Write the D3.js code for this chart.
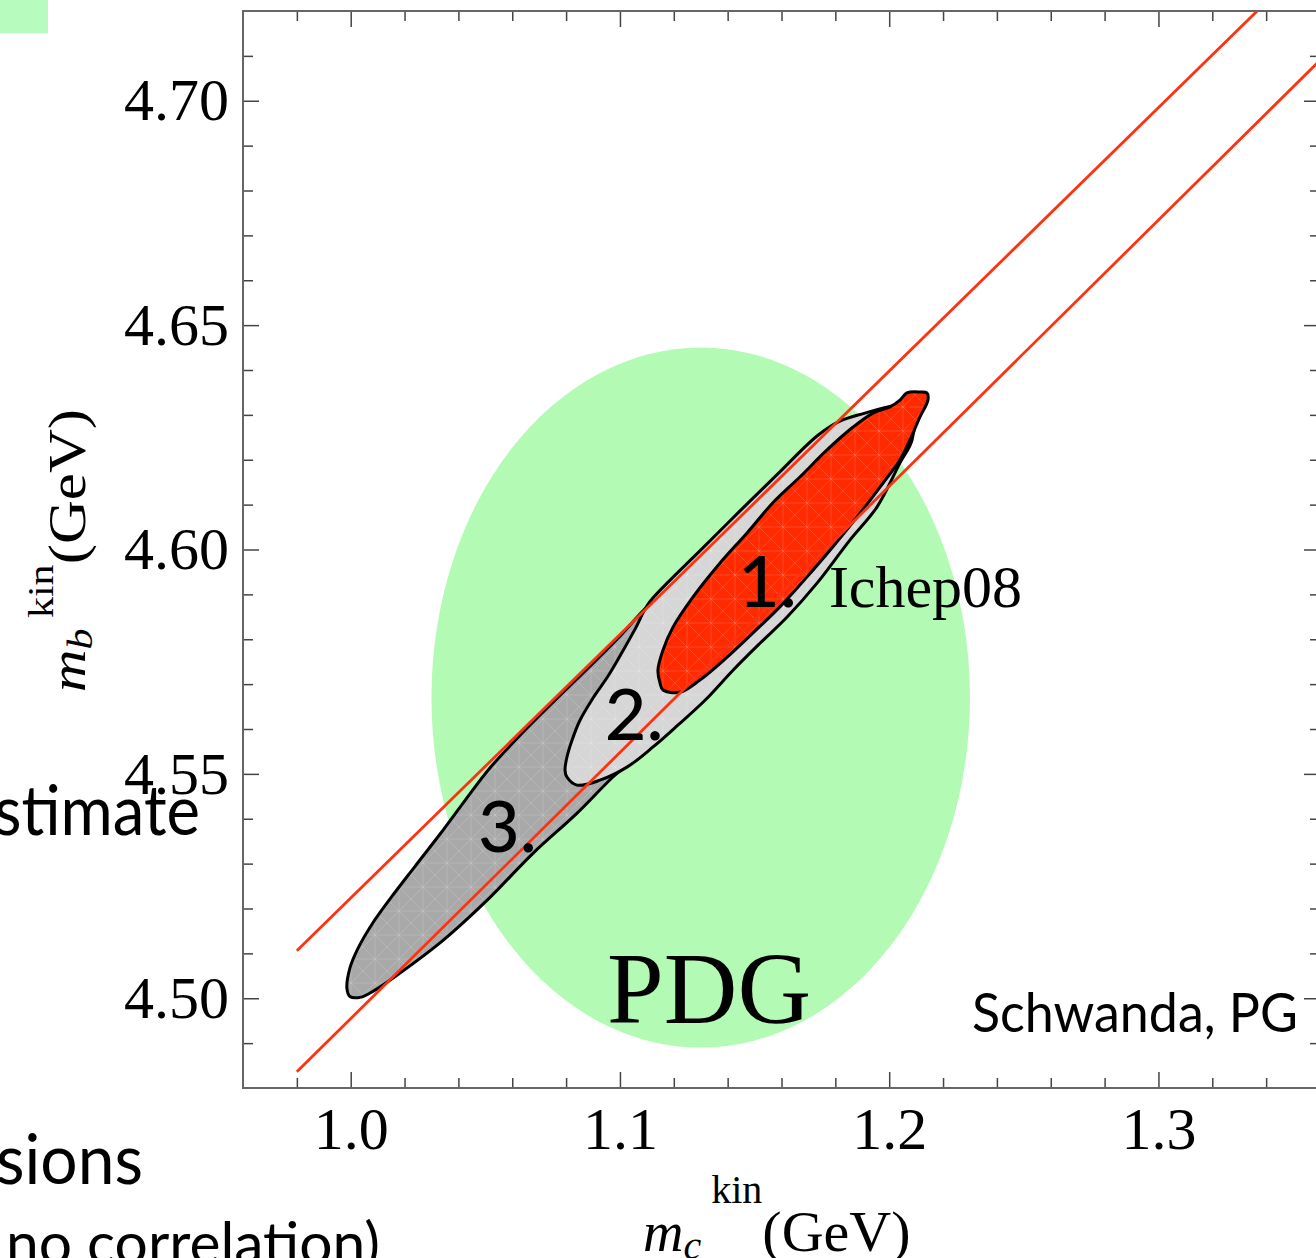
<!DOCTYPE html>
<html>
<head>
<meta charset="utf-8">
<script src="https://cdn.jsdelivr.net/npm/d3@7"></script>
<style>
  body { margin: 0; background: #fff; }
  svg { display: block; }
</style>
</head>
<body>
<div id="chart"></div>
<script>
// axis ticks
const x_ticks = [1.0, 1.1, 1.2, 1.3];
const y_ticks = [4.50, 4.55, 4.60, 4.65, 4.70];
const x_minor = [0.98, 1.02, 1.04, 1.06, 1.08, 1.12, 1.14, 1.16, 1.18, 1.22, 1.24, 1.26, 1.28, 1.32, 1.34];
const y_minor = [4.49, 4.51, 4.52, 4.53, 4.54, 4.56, 4.57, 4.58, 4.59, 4.61, 4.62, 4.63, 4.64, 4.66, 4.67, 4.68, 4.69, 4.71];

// PDG average (m_c, m_b) and its half widths
const pdg_center = [1.13, 4.567];
const pdg_halfwidth = [0.10, 0.078];

// red band
const band_upper = [[0.98, 4.5106], [1.36, 4.7337]];
const band_lower = [[0.98, 4.4836], [1.36, 4.7090]];

// contours, [m_c, m_b]
const contour_3 = [
  [0.9986, 4.5022], [0.9997, 4.5067], [1.0027, 4.5111], [1.0079, 4.5165], [1.0153, 4.5227],
  [1.0239, 4.5294], [1.0332, 4.5366], [1.0425, 4.5441], [1.0517, 4.5513], [1.0629, 4.5586],
  [1.0759, 4.5664], [1.0889, 4.5740], [1.1000, 4.5807], [1.1104, 4.5874], [1.1179, 4.5905],
  [1.1231, 4.5854], [1.1193, 4.5687], [1.1112, 4.5564], [1.1048, 4.5531], [1.0974, 4.5493],
  [1.0840, 4.5412], [1.0677, 4.5323], [1.0506, 4.5218], [1.0343, 4.5129], [1.0183, 4.5056],
  [1.0090, 4.5018], [1.0035, 4.5002], [0.9997, 4.5004]
];
const contour_2 = [
  [1.0796, 4.5508], [1.0803, 4.5537], [1.0822, 4.5575], [1.0852, 4.5620], [1.0900, 4.5669],
  [1.0956, 4.5718], [1.1008, 4.5771], [1.1060, 4.5827], [1.1104, 4.5878], [1.1175, 4.5925],
  [1.1297, 4.5997], [1.1446, 4.6086], [1.1594, 4.6173], [1.1732, 4.6253], [1.1817, 4.6286],
  [1.1910, 4.6304], [1.2014, 4.6320], [1.2085, 4.6322], [1.2085, 4.6244],
  [1.2040, 4.6193], [1.1955, 4.6095], [1.1854, 4.6021], [1.1732, 4.5925], [1.1620, 4.5849],
  [1.1520, 4.5791], [1.1420, 4.5731], [1.1316, 4.5664], [1.1216, 4.5609], [1.1123, 4.5560],
  [1.1026, 4.5515], [1.0926, 4.5486], [1.0840, 4.5475], [1.0803, 4.5493]
];
const contour_1 = [
  [1.1149, 4.5702], [1.1160, 4.5687], [1.1223, 4.5682], [1.1297, 4.5709], [1.1398, 4.5760],
  [1.1494, 4.5814], [1.1594, 4.5872], [1.1695, 4.5939], [1.1791, 4.6006], [1.1892, 4.6081],
  [1.1977, 4.6148], [1.2040, 4.6200], [1.2077, 4.6244], [1.2114, 4.6295], [1.2144, 4.6333],
  [1.2140, 4.6349], [1.2114, 4.6351], [1.2066, 4.6349], [1.2040, 4.6333], [1.2003, 4.6318],
  [1.1940, 4.6304], [1.1866, 4.6273], [1.1769, 4.6222], [1.1669, 4.6162], [1.1568, 4.6104],
  [1.1472, 4.6037], [1.1372, 4.5970], [1.1271, 4.5894], [1.1197, 4.5827], [1.1160, 4.5776],
  [1.1141, 4.5731]
];

// annotations inside the plot
const marks_text = [
  { text: "1.", mc: 1.1438, mb: 4.5872, font: "Lato", size: 72, weight: 500 },
  { text: "2.", mc: 1.0944, mb: 4.5575, font: "Lato", size: 72, weight: 500 },
  { text: "3.", mc: 1.0473, mb: 4.5326, font: "Lato", size: 72, weight: 500 },
  { text: "Ichep08", mc: 1.1776, mb: 4.5872, font: "Liberation Serif", size: 60, weight: 400 },
  { text: "PDG", mc: 1.0952, mb: 4.4944, font: "Liberation Serif", size: 102, weight: 400 }
];

let graph_config = {
  width: 1316,
  height: 1258,
  margin: { left: 243, right: -4, top: 11, bottom: 170 }
};
let plot_w = graph_config.width - graph_config.margin.left - graph_config.margin.right;
let plot_h = graph_config.height - graph_config.margin.top - graph_config.margin.bottom;

let svg = d3.select("#chart").append("svg")
  .attr("width", graph_config.width)
  .attr("height", graph_config.height);

// faint triangulation mesh seen inside the filled contours
let pat = svg.append("defs").append("pattern")
  .attr("id", "mesh").attr("patternUnits", "userSpaceOnUse")
  .attr("width", 24).attr("height", 24);
pat.append("path")
  .attr("d", "M0,0L24,24M24,0L0,24M12,0V24M0,12H24")
  .attr("stroke", "#fff").attr("stroke-opacity", 0.15).attr("stroke-width", 1).attr("fill", "none");

// bits of the surrounding slide
svg.append("rect").attr("x", 0).attr("y", 0).attr("width", 48).attr("height", 33).attr("fill", "#b8fbbf");
let slide_text = [
  { text: "stimate", x: -6, y: 835, size: 70, len: 206 },
  { text: "sions", x: -4, y: 1184, size: 70, len: 147 },
  { text: "no correlation)", x: 6, y: 1264, size: 58, len: 374 }
];
svg.selectAll(".slide").data(slide_text).enter().append("text")
  .attr("class", "slide")
  .attr("x", d => d.x).attr("y", d => d.y)
  .attr("font-family", "Lato").attr("font-size", d => d.size)
  .attr("textLength", d => d.len).attr("lengthAdjust", "spacingAndGlyphs")
  .attr("fill", "#000")
  .text(d => d.text);

let g = svg.append("g")
  .attr("transform", "translate(" + graph_config.margin.left + "," + graph_config.margin.top + ")");

let x = d3.scaleLinear().domain([0.96, 1.36]).range([0, plot_w]);
let y = d3.scaleLinear().domain([4.48, 4.72]).range([plot_h, 0]);

g.append("clipPath").attr("id", "plot_clip")
  .append("rect").attr("width", plot_w).attr("height", plot_h);

let inner = g.append("g").attr("clip-path", "url(#plot_clip)");

// PDG ellipse
inner.append("ellipse")
  .attr("cx", x(pdg_center[0]))
  .attr("cy", y(pdg_center[1]))
  .attr("rx", x(pdg_center[0] + pdg_halfwidth[0]) - x(pdg_center[0]))
  .attr("ry", y(pdg_center[1]) - y(pdg_center[1] + pdg_halfwidth[1]))
  .attr("fill", "#b3fab4");

let contour_line = d3.line()
  .x(d => x(d[0]))
  .y(d => y(d[1]))
  .curve(d3.curveCatmullRomClosed.alpha(0.5));

let contours = [
  { pts: contour_3, fill: "#a9a9a9" },
  { pts: contour_2, fill: "#d6d6d6" },
  { pts: contour_1, fill: "#ff2a00" }
];
let cg = inner.selectAll(".contour").data(contours).enter().append("g").attr("class", "contour");
cg.append("path").attr("d", d => contour_line(d.pts)).attr("fill", d => d.fill);
cg.append("path").attr("d", d => contour_line(d.pts)).attr("fill", "url(#mesh)");
cg.append("path").attr("d", d => contour_line(d.pts))
  .attr("fill", "none")
  .attr("stroke", "#000")
  .attr("stroke-width", 3)
  .attr("stroke-linejoin", "round");

let band_line = d3.line().x(d => x(d[0])).y(d => y(d[1]));
inner.selectAll(".band").data([band_upper, band_lower]).enter().append("path")
  .attr("class", "band")
  .attr("d", band_line)
  .attr("fill", "none")
  .attr("stroke", "#ff3210")
  .attr("stroke-width", 2.8);

g.selectAll(".note").data(marks_text).enter().append("text")
  .attr("class", "note")
  .attr("x", d => x(d.mc)).attr("y", d => y(d.mb))
  .attr("font-family", d => d.font)
  .attr("font-size", d => d.size)
  .attr("font-weight", d => d.weight)
  .text(d => d.text);

g.append("text")
  .attr("x", x(1.3518)).attr("y", y(4.4924))
  .attr("text-anchor", "end")
  .attr("font-family", "Lato").attr("font-size", 54)
  .attr("textLength", 326).attr("lengthAdjust", "spacingAndGlyphs")
  .text("Schwanda, PG");

// frame and ticks on all four sides
function tick_axis(axis, transform) {
  let a = g.append("g").attr("transform", transform).call(axis);
  a.select(".domain").remove();
  a.selectAll(".tick line").attr("stroke", "#444").attr("stroke-width", 1.5);
  a.selectAll("text").attr("font-family", "Liberation Serif").attr("font-size", 60).attr("fill", "#000");
  return a;
}
tick_axis(d3.axisBottom(x).tickValues(x_ticks).tickSize(-16).tickPadding(18).tickFormat(d3.format(".1f")),
  "translate(0," + plot_h + ")");
tick_axis(d3.axisBottom(x).tickValues(x_minor).tickSize(-10).tickFormat(""), "translate(0," + plot_h + ")");
tick_axis(d3.axisTop(x).tickValues(x_ticks).tickSize(-16).tickFormat(""), "translate(0,0)");
tick_axis(d3.axisTop(x).tickValues(x_minor).tickSize(-10).tickFormat(""), "translate(0,0)");
tick_axis(d3.axisLeft(y).tickValues(y_ticks).tickSize(-16).tickPadding(14).tickFormat(d3.format(".2f")),
  "translate(0,0)");
tick_axis(d3.axisLeft(y).tickValues(y_minor).tickSize(-10).tickFormat(""), "translate(0,0)");
tick_axis(d3.axisRight(y).tickValues(y_ticks).tickSize(-16).tickFormat(""), "translate(" + plot_w + ",0)");
tick_axis(d3.axisRight(y).tickValues(y_minor).tickSize(-10).tickFormat(""), "translate(" + plot_w + ",0)");

g.append("rect")
  .attr("width", plot_w).attr("height", plot_h)
  .attr("fill", "none").attr("stroke", "#666").attr("stroke-width", 2);

// axis titles: m_q^kin (GeV)
function axis_title(sel, sub, sup_rise) {
  let t = sel.append("text").attr("font-family", "Liberation Serif").attr("font-size", 56).attr("fill", "#000");
  t.append("tspan").attr("font-style", "italic").text("m");
  t.append("tspan").attr("font-style", "italic").attr("font-size", 40).attr("dy", 8).text(sub);
  t.append("tspan").attr("font-size", 40).attr("dx", 10).attr("dy", -8 - sup_rise).text("kin");
  t.append("tspan").attr("font-size", 58).attr("dy", sup_rise).text("(GeV)");
}
axis_title(svg.append("g").attr("transform", "translate(643,1251)"), "c", 48);
axis_title(svg.append("g").attr("transform", "translate(85,692) rotate(-90) scale(1.05,0.9)"), "b", 36);
</script>
</body>
</html>
